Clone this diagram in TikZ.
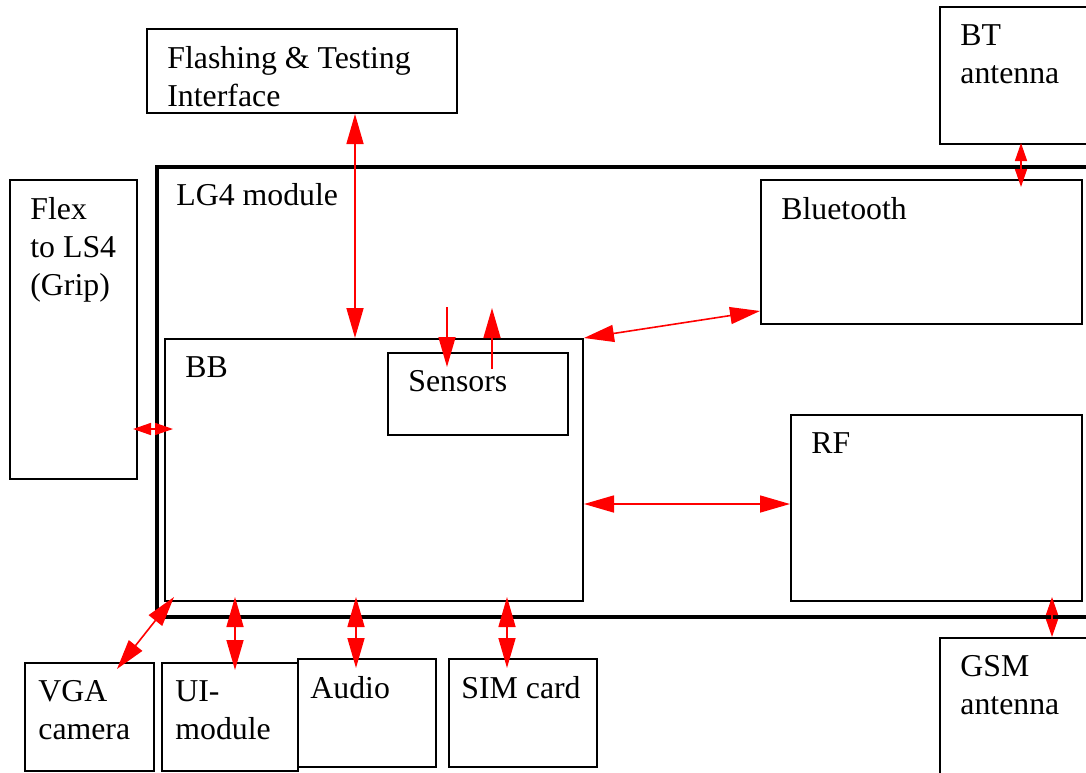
\documentclass[tikz,border=0pt]{standalone}
\usepackage{fontspec}
\setmainfont{Liberation Serif}
\usetikzlibrary{arrows.meta}

\tikzset{
  box/.style 2 args={draw, line width=1pt, anchor=north west, inner sep=0pt,
    minimum width=#1, minimum height=#2},
  lbl/.style={anchor=north west, align=left, inner sep=0pt, xshift=10.5pt, yshift=-9pt},
  bigarrow/.style={draw=red, fill=red, line width=0.8pt,
    {Triangle[length=15pt, width=8.5pt]}-{Triangle[length=15pt, width=8.5pt]}},
  smallarrow/.style={draw=red, fill=red, line width=0.8pt,
    {Triangle[length=9pt, width=6pt]}-{Triangle[length=9pt, width=6pt]}},
  onearrow/.style={draw=red, fill=red, line width=0.8pt, -{Triangle[length=15pt, width=8.5pt]}}
}

\begin{document}
\begin{tikzpicture}[x=0.5pt, y=-0.5pt, font=\fontsize{15.9}{19}\selectfont]
    \useasboundingbox (0,0) rectangle (1086,772);
    \clip (0,0) rectangle (1086,772);

    % outer blocks
    \node [box={155pt}{42pt}, label={[lbl]north west:Flashing \& Testing\\Interface}] (flash) at (146,28) {};
    \node [box={80pt}{68.5pt}, label={[lbl]north west:BT\\antenna}] (btant) at (939,6) {};
    \node [box={480pt}{225pt}, line width=2pt, label={[lbl]north west:LG4 module}] (lg4) at (155,165) {};
    \node [box={63.5pt}{149.5pt}, label={[lbl]north west:Flex\\to LS4\\(Grip)}] (flex) at (9,179) {};

    % inside the module
    \node [box={160.5pt}{72pt}, label={[lbl]north west:Bluetooth}] (bt) at (760,179) {};
    \node [box={209pt}{131pt}, label={[lbl]north west:BB}] (bb) at (164,338) {};
    \node [box={90pt}{41pt}, label={[lbl]north west:Sensors}] (sens) at (387,352) {};
    \node [box={145.5pt}{93pt}, label={[lbl]north west:RF}] (rf) at (790,414) {};

    % peripherals
    \node [box={64.5pt}{54pt}, label={[lbl, xshift=-3.5pt]north west:VGA\\camera}] (vga) at (24,662) {};
    \node [box={68pt}{54pt}, label={[lbl, xshift=-3.5pt]north west:UI-\\module}] (ui) at (161,662) {};
    \node [box={69pt}{54pt}, label={[lbl, xshift=-4pt]north west:Audio}] (audio) at (297,658) {};
    \node [box={74pt}{54pt}, label={[lbl, xshift=-4pt]north west:SIM card}] (sim) at (448,658) {};
    \node [box={80pt}{100pt}, label={[lbl]north west:GSM\\antenna}] (gsm) at (939,637) {};

    % arrow positions
    \coordinate (cflash) at (355,0);
    \coordinate (cin) at (447,307);
    \coordinate (cout) at (492,308);
    \coordinate (cflex) at (0,429);
    \coordinate (crf) at (0,504);
    \coordinate (cui) at (235,0);
    \coordinate (caudio) at (356,0);
    \coordinate (csim) at (507,0);
    \coordinate (cbt) at (1021,0);
    \coordinate (cgsm) at (1052,0);

    \draw [bigarrow] (flash.south -| cflash) -- (bb.north -| cflash);
    \draw [onearrow] (cin) -- ([yshift=-7.5pt]sens.north -| cin);
    \draw [onearrow] ([yshift=-8.5pt]sens.north -| cout) -- (cout);
    \draw [bigarrow] (bb.north east) -- ([yshift=7pt]bt.south west);
    \draw [smallarrow, shorten <=-2.5pt, shorten >=-4.5pt] (flex.east |- cflex) -- (bb.west |- cflex);
    \draw [bigarrow] (bb.east |- crf) -- (rf.west |- crf);
    \draw [bigarrow] ([xshift=5pt,yshift=2.5pt]bb.south west) -- ([xshift=-19pt,yshift=-3.5pt]vga.north east);
    \draw [bigarrow, shorten <=-2.5pt, shorten >=-4pt] (bb.south -| cui) -- (ui.north -| cui);
    \draw [bigarrow, shorten <=-2.5pt, shorten >=-5pt] (bb.south -| caudio) -- (audio.north -| caudio);
    \draw [bigarrow, shorten <=-2.5pt, shorten >=-5pt] (bb.south -| csim) -- (sim.north -| csim);
    \draw [smallarrow, shorten <=-1pt, shorten >=-4pt] (btant.south -| cbt) -- (bt.north -| cbt);
    \draw [smallarrow, shorten <=-2.5pt] (rf.south -| cgsm) -- (gsm.north -| cgsm);
\end{tikzpicture}
\end{document}
